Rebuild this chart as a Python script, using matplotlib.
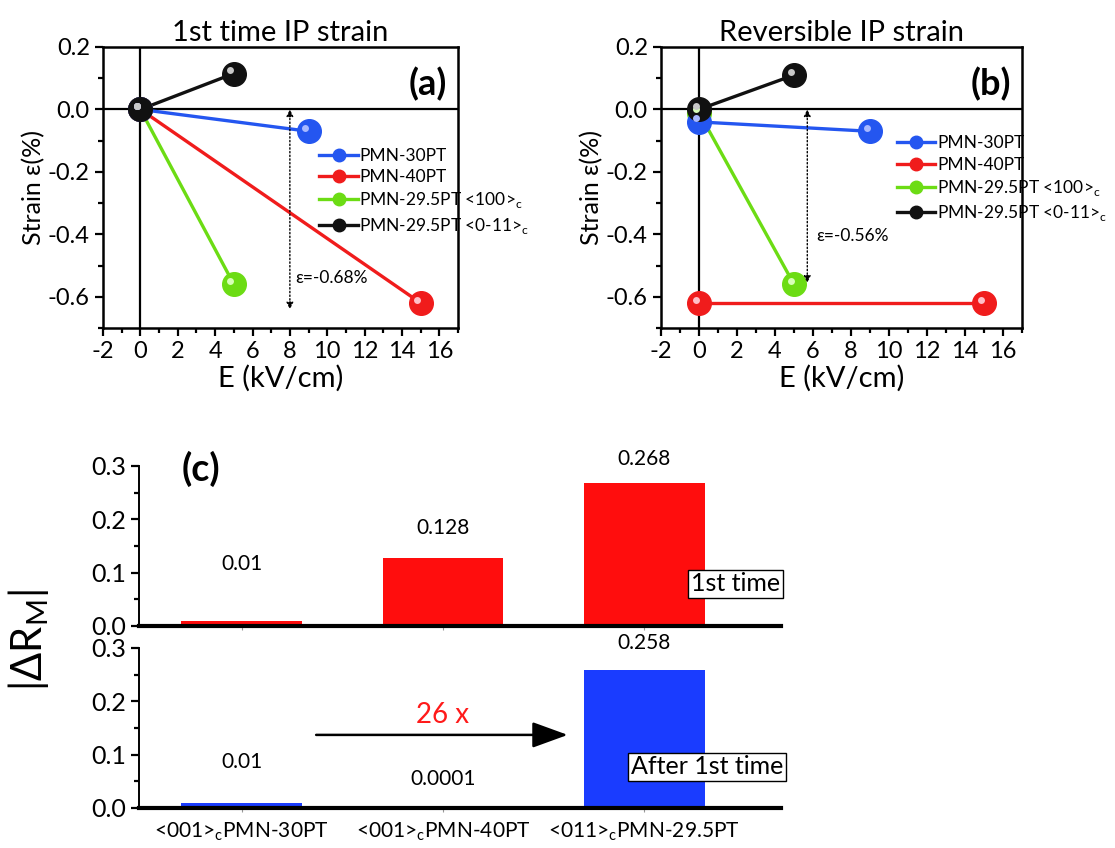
import matplotlib
matplotlib.use('Agg')
import matplotlib.pyplot as plt
from matplotlib.transforms import offset_copy
from matplotlib.ticker import MultipleLocator

plt.rcParams['font.family'] = ['Lato', 'DejaVu Sans']
plt.rcParams['mathtext.fontset'] = 'custom'
plt.rcParams['mathtext.rm'] = 'Lato'
plt.rcParams['axes.unicode_minus'] = False

# strain data, panel (a): first time
names = ['PMN-30PT', 'PMN-40PT', r'PMN-29.5PT <100>$_\mathrm{c}$', r'PMN-29.5PT <0-11>$_\mathrm{c}$']
colors = ['#2456f0', '#f01c1c', '#6cdc14', '#111111']
hilite = ['#a8b8ff', '#ffc0c8', '#d8ffb8', '#c8c8c8']
a_E = [[0, 9], [0, 15], [0, 5], [0, 5]]
a_strain = [[0, -0.07], [0, -0.62], [0, -0.56], [0, 0.115]]

# panel (b): reversible
b_E = [[0, 9], [0, 15], [0, 5], [0, 5]]
b_strain = [[-0.04, -0.07], [-0.62, -0.62], [-0.01, -0.56], [0, 0.11]]

# panel (c): |dR_M|
samples = [r'<001>$_\mathrm{c}$PMN-30PT', r'<001>$_\mathrm{c}$PMN-40PT', r'<011>$_\mathrm{c}$PMN-29.5PT']
first_time = [0.01, 0.128, 0.268]
after_first = [0.01, 0.0001, 0.258]
first_lbl = ['0.01', '0.128', '0.268']
after_lbl = ['0.01', '0.0001', '0.258']

fig = plt.figure(figsize=(11.15, 8.48), dpi=100)


def strain_panel(rect, E, S, title, tag, arrow_x, arrow_lo, note, note_xy, leg_anchor):
    ax = fig.add_axes(rect)
    ax.axhline(0, color='k', lw=1.6, zorder=1)
    ax.axvline(0, color='k', lw=1.6, zorder=1)
    hl = offset_copy(ax.transData, fig=fig, x=-2.5, y=2.5, units='points')
    # draw the (0,0)-ish end last so black sits on top
    for i in [2, 1, 0, 3]:
        ax.plot(E[i], S[i], '-', color=colors[i], lw=2.4, zorder=2)
        ax.plot(E[i], S[i], 'o', color=colors[i], ms=17, mec=colors[i], zorder=3)
        ax.plot(E[i], S[i], 'o', color=hilite[i], ms=5, mec='none', zorder=4, transform=hl)
    handles = []
    for i in range(4):
        h, = ax.plot([], [], '-o', color=colors[i], lw=2.4, ms=9)
        handles.append(h)
    ax.legend(handles, names, loc='upper left', bbox_to_anchor=leg_anchor, frameon=False,
              fontsize=12.5, handlelength=2.2, handletextpad=0.1, labelspacing=0.3,
              borderaxespad=0)
    ax.annotate('', xy=(arrow_x, arrow_lo), xytext=(arrow_x, 0),
                arrowprops=dict(arrowstyle='<|-|>', ls=':', lw=1, color='k',
                                mutation_scale=10, shrinkA=0, shrinkB=0))
    ax.text(note_xy[0], note_xy[1], note, fontsize=12.5)
    ax.text(0.97, 0.93, tag, transform=ax.transAxes, ha='right', va='top',
            fontsize=26, fontweight='bold')
    ax.set_title(title, fontsize=21, pad=4)
    ax.set_xlim(-2, 17)
    ax.set_ylim(-0.7, 0.2)
    ax.set_xticks(range(-2, 17, 2))
    ax.set_yticks([-0.6, -0.4, -0.2, 0.0, 0.2])
    ax.set_yticklabels(['-0.6', '-0.4', '-0.2', '0.0', '0.2'])
    ax.xaxis.set_minor_locator(MultipleLocator(1))
    ax.yaxis.set_minor_locator(MultipleLocator(0.1))
    ax.tick_params(which='both', direction='out', width=1.6, labelsize=17, top=False, right=False)
    ax.tick_params(which='major', length=6)
    ax.tick_params(which='minor', length=3.5)
    for s in ax.spines.values():
        s.set_linewidth(1.8)
    ax.set_xlabel('E (kV/cm)', fontsize=21, labelpad=2)
    ax.set_ylabel('Strain ε(%)', fontsize=18, labelpad=2)
    return ax


strain_panel([0.0924, 0.6132, 0.3184, 0.3314], a_E, a_strain, '1st time IP strain', '(a)',
             8, -0.64, 'ε=-0.68%', (8.3, -0.555), (0.59, 0.665))
strain_panel([0.5928, 0.6132, 0.3238, 0.3314], b_E, b_strain, 'Reversible IP strain', '(b)',
             5.7, -0.555, 'ε=-0.56%', (6.15, -0.42), (0.635, 0.71))

# panel (c)
x = range(len(samples))
ax1 = fig.add_axes([0.1247, 0.2618, 0.5758, 0.1887])
ax2 = fig.add_axes([0.1247, 0.0472, 0.5758, 0.1887])
for ax, vals, lbls, col, lbl_y in [(ax1, first_time, first_lbl, '#ff0d0d', [0.097, 0.165, 0.294]),
                                   (ax2, after_first, after_lbl, '#1a3cff', [0.067, 0.036, 0.291])]:
    ax.bar(x, vals, width=0.6, color=col)
    for xi, ly, t in zip(x, lbl_y, lbls):
        ax.text(xi, ly, t, ha='center', va='bottom', fontsize=15)
    ax.set_xlim(-0.51, 2.68)
    ax.set_ylim(0, 0.3)
    ax.set_yticks([0.0, 0.1, 0.2, 0.3])
    ax.set_yticklabels(['0.0', '0.1', '0.2', '0.3'])
    ax.yaxis.set_minor_locator(MultipleLocator(0.05))
    ax.tick_params(axis='y', which='both', direction='out', width=1.6, labelsize=18)
    ax.tick_params(axis='y', which='major', length=6)
    ax.tick_params(axis='y', which='minor', length=3.5)
    ax.tick_params(axis='x', length=3, color='#999999')
    ax.set_xticks(list(x))
    ax.spines['top'].set_visible(False)
    ax.spines['right'].set_visible(False)
    ax.spines['left'].set_linewidth(1.4)
    ax.spines['bottom'].set_linewidth(3)

ax1.set_xticklabels([])
ax2.set_xticklabels(samples, fontsize=15)
ax2.tick_params(axis='x', pad=6)

ax1.text(-0.2, 0.295, '(c)', fontsize=27, fontweight='bold', ha='center', va='center')
ax1.text(2.675, 0.079, '1st time', ha='right', va='center', fontsize=18,
         bbox=dict(boxstyle='square,pad=0.1', fc='white', ec='k', lw=1))
ax2.text(2.69, 0.077, 'After 1st time', ha='right', va='center', fontsize=18,
         bbox=dict(boxstyle='square,pad=0.1', fc='white', ec='k', lw=1))
ax2.text(1.0, 0.174, '26 x', color='#ff1a1a', ha='center', va='center', fontsize=20)
ax2.annotate('', xy=(1.62, 0.137), xytext=(0.37, 0.137),
             arrowprops=dict(arrowstyle='-|>,head_length=2.2,head_width=0.8', lw=1.8, color='k',
                             shrinkA=0, shrinkB=0))

fig.text(0.026, 0.245, r'|ΔR$_\mathrm{M}$|', rotation=90, ha='center', va='center', fontsize=30)

fig.savefig('out.png', dpi=100)
